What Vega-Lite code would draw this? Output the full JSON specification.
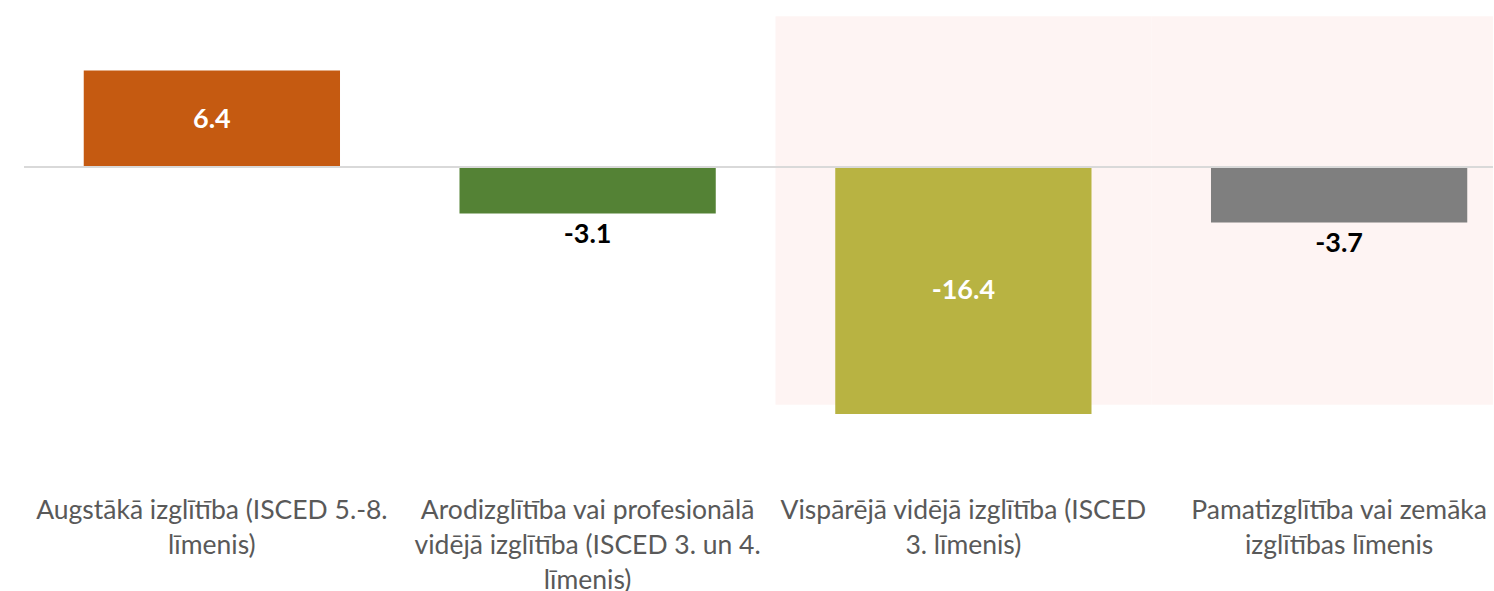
{
  "$schema": "https://vega.github.io/schema/vega-lite/v6.json",
  "width": 1469,
  "height": 438,
  "autosize": {"type": "none"},
  "padding": {"left": 24, "top": 0, "right": 0, "bottom": 153},
  "background": "white",
  "config": {"view": {"stroke": null}},
  "data": {
    "values": [
      {"category": "Augstākā izglītība (ISCED 5.-8. līmenis)", "value": 6.4},
      {"category": "Arodizglītība vai profesionālā vidējā izglītība (ISCED 3. un 4. līmenis)", "value": -3.1},
      {"category": "Vispārējā vidējā izglītība (ISCED 3. līmenis)", "value": -16.4},
      {"category": "Pamatizglītība vai zemāka izglītības līmenis", "value": -3.7}
    ]
  },
  "resolve": {"scale": {"y": "independent"}},
  "layer": [
    {
      "transform": [{"filter": {"field": "category", "oneOf": ["Vispārējā vidējā izglītība (ISCED 3. līmenis)", "Pamatizglītība vai zemāka izglītības līmenis"]}}],
      "mark": {"type": "rect", "color": "#FEF4F3"},
      "encoding": {
        "x": {"field": "category", "type": "nominal", "sort": null, "scale": {"type": "band", "domain": ["Augstākā izglītība (ISCED 5.-8. līmenis)", "Arodizglītība vai profesionālā vidējā izglītība (ISCED 3. un 4. līmenis)", "Vispārējā vidējā izglītība (ISCED 3. līmenis)", "Pamatizglītība vai zemāka izglītības līmenis"], "range": [0, 1503], "paddingInner": 0, "paddingOuter": 0}},
        "y": {"datum": 10, "type": "quantitative", "scale": {"domain": [-18, 11.08], "nice": false, "zero": false}, "axis": null},
        "y2": {"datum": -15.8}
      }
    },
    {
      "mark": {"type": "bar", "width": {"band": 0.682}},
      "encoding": {
        "x": {"field": "category", "type": "nominal", "sort": null, "scale": {"type": "band", "domain": ["Augstākā izglītība (ISCED 5.-8. līmenis)", "Arodizglītība vai profesionālā vidējā izglītība (ISCED 3. un 4. līmenis)", "Vispārējā vidējā izglītība (ISCED 3. līmenis)", "Pamatizglītība vai zemāka izglītības līmenis"], "range": [0, 1503], "paddingInner": 0, "paddingOuter": 0},
          "axis": {
            "title": null, "domain": false, "ticks": false, "grid": false, "labelAngle": 0, "labelPadding": 59,
            "labelFont": "Lato", "labelFontSize": 26.5, "labelColor": "#595959", "labelLineHeight": 35,
            "labelLimit": 1000, "labelOverlap": false, "labelBound": false, "labelFlush": false,
            "labelBaseline": "top", "labelAlign": "center",
            "labelExpr": "datum.value == 'Augstākā izglītība (ISCED 5.-8. līmenis)' ? ['Augstākā izglītība (ISCED 5.-8.', 'līmenis)'] : datum.value == 'Arodizglītība vai profesionālā vidējā izglītība (ISCED 3. un 4. līmenis)' ? ['Arodizglītība vai profesionālā', 'vidējā izglītība (ISCED 3. un 4.', 'līmenis)'] : datum.value == 'Vispārējā vidējā izglītība (ISCED 3. līmenis)' ? ['Vispārējā vidējā izglītība (ISCED', '3. līmenis)'] : ['Pamatizglītība vai zemāka', 'izglītības līmenis']"
          }
        },
        "y": {"field": "value", "type": "quantitative", "scale": {"domain": [-18, 11.08], "nice": false, "zero": false}, "axis": null},
        "color": {"field": "category", "type": "nominal", "sort": null, "legend": null,
          "scale": {"domain": ["Augstākā izglītība (ISCED 5.-8. līmenis)", "Arodizglītība vai profesionālā vidējā izglītība (ISCED 3. un 4. līmenis)", "Vispārējā vidējā izglītība (ISCED 3. līmenis)", "Pamatizglītība vai zemāka izglītības līmenis"],
            "range": ["#C55A11", "#548235", "#B8B342", "#7F7F7F"]}}
      }
    },
    {
      "mark": {"type": "rule", "color": "#D9D9D9", "strokeWidth": 2},
      "encoding": {
        "y": {"datum": 0, "type": "quantitative", "scale": {"domain": [-18, 11.08], "nice": false, "zero": false}, "axis": null}
      }
    },
    {
      "transform": [{"filter": "datum.value < 0 && datum.value > -10"}],
      "mark": {"type": "text", "font": "Lato", "fontWeight": "bold", "fontSize": 27, "color": "#000000", "baseline": "middle", "dy": 21},
      "encoding": {
        "x": {"field": "category", "type": "nominal", "sort": null},
        "y": {"field": "value", "type": "quantitative", "scale": {"domain": [-18, 11.08], "nice": false, "zero": false}, "axis": null},
        "text": {"field": "value", "type": "nominal"}
      }
    },
    {
      "transform": [{"filter": "datum.value > 0 || datum.value < -10"}],
      "mark": {"type": "text", "font": "Lato", "fontWeight": "bold", "fontSize": 27, "color": "#FFFFFF", "baseline": "middle", "dy": 1},
      "encoding": {
        "x": {"field": "category", "type": "nominal", "sort": null},
        "y": {"field": "value", "type": "quantitative", "scale": {"domain": [-36, 22.16], "nice": false, "zero": false}, "axis": null},
        "text": {"field": "value", "type": "nominal"}
      }
    }
  ]
}
